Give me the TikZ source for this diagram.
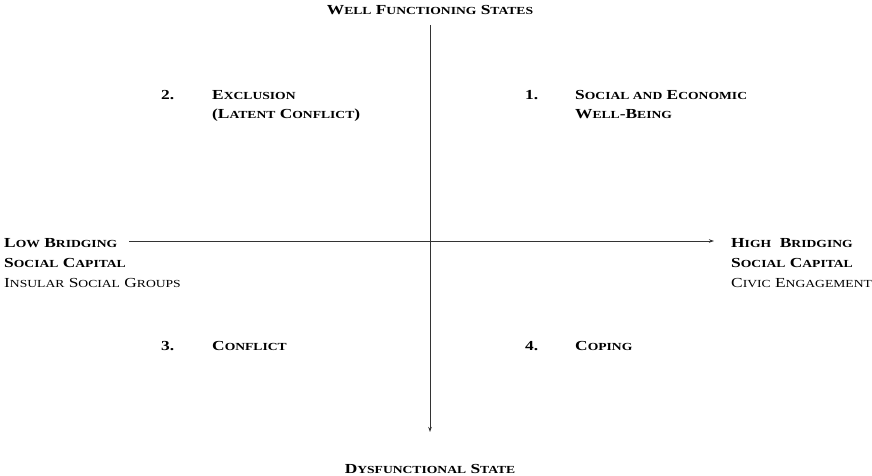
\documentclass[tikz,border=0pt]{standalone}
\usepackage{fontspec}
\setmainfont[FakeStretch=1.26]{Liberation Serif}
\usetikzlibrary{arrows.meta}
\newcommand\SCx[1]{{\fontsize{10.8}{12}\selectfont #1}}
\tikzset{
  lbl/.style={anchor=base west, inner sep=0pt, font=\fontsize{13.8}{16}\selectfont\bfseries},
  lblc/.style={anchor=base, inner sep=0pt, font=\fontsize{13.8}{16}\selectfont\bfseries},
  sub/.style={anchor=base west, inner sep=0pt, font=\fontsize{13.8}{16}\selectfont},
  axis/.style={line width=0.9pt, draw=black!80, -{Stealth[length=5pt,width=3.5pt]}},
}
\begin{document}
\begin{tikzpicture}[x=1pt,y=-1pt]
\useasboundingbox (0,0) rectangle (872,476);
% axes
\coordinate (vt) at (430,25);
\coordinate (vb) at (430,432);
\coordinate (hl) at (129,241);
\coordinate (hr) at (714,241);
\draw[axis] (vt) -- (vb);
\draw[axis] (hl) -- (hr);
% titles
\node[lblc] (top) at (430,15) {W\SCx{ELL} F\SCx{UNCTIONING} S\SCx{TATES}};
\node[lblc] (bot) at (430,473) {D\SCx{YSFUNCTIONAL} S\SCx{TATE}};
% left
\node[lbl] (l1) at (4,247) {L\SCx{OW} B\SCx{RIDGING}};
\node[lbl] (l2) at (4,267) {S\SCx{OCIAL} C\SCx{APITAL}};
\node[sub] (l3) at (4,287) {I\SCx{NSULAR} S\SCx{OCIAL} G\SCx{ROUPS}};
% right
\node[lbl] (r1) at (731,247) {H\SCx{IGH}\ \ B\SCx{RIDGING}};
\node[lbl] (r2) at (731,267) {S\SCx{OCIAL} C\SCx{APITAL}};
\node[sub] (r3) at (731,287) {C\SCx{IVIC} E\SCx{NGAGEMENT}};
% quadrant 2
\node[lbl] (n2) at (161,100) {2.};
\node[lbl] (q2a) at (212,100) {E\SCx{XCLUSION}};
\node[lbl] (q2b) at (212,118) {(L\SCx{ATENT} C\SCx{ONFLICT})};
% quadrant 1
\node[lbl] (n1) at (525,100) {1.};
\node[lbl] (q1a) at (575,100) {S\SCx{OCIAL AND} E\SCx{CONOMIC}};
\node[lbl] (q1b) at (575,118) {W\SCx{ELL}-B\SCx{EING}};
% quadrant 3
\node[lbl] (n3) at (161,350) {3.};
\node[lbl] (q3) at (212,350) {C\SCx{ONFLICT}};
% quadrant 4
\node[lbl] (n4) at (525,350) {4.};
\node[lbl] (q4) at (575,350) {C\SCx{OPING}};
\end{tikzpicture}
\end{document}
